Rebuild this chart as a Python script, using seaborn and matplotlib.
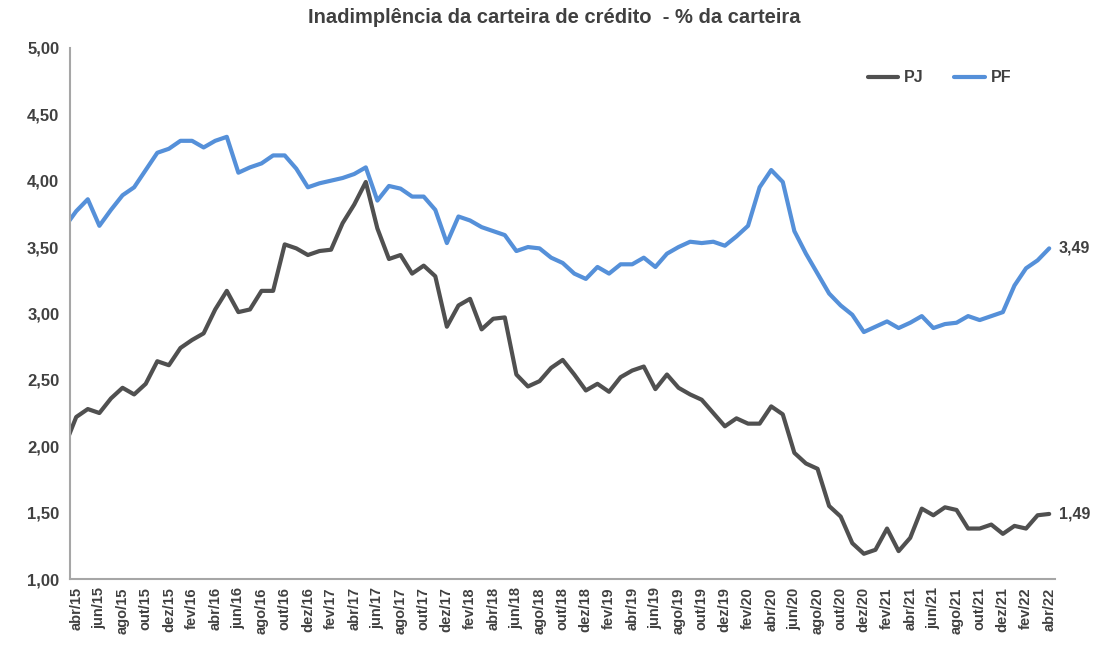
import numpy as np
import pandas as pd
import matplotlib
matplotlib.use("Agg")
import matplotlib.pyplot as plt
import seaborn as sns

# ---------------- data ----------------
MESES = ["jan", "fev", "mar", "abr", "mai", "jun", "jul", "ago", "set", "out", "nov", "dez"]
# months from mar/15 to abr/22 (mar/15 is only partially visible at the axis)
periodos = [f"{MESES[(2 + k) % 12]}/{15 + (2 + k) // 12}" for k in range(86)]

pf = [3.65,
      3.77, 3.86, 3.66, 3.78, 3.89, 3.95, 4.08, 4.21, 4.24, 4.30, 4.30, 4.25,
      4.30, 4.33, 4.06, 4.10, 4.13, 4.19, 4.19, 4.09, 3.95, 3.98, 4.00, 4.02,
      4.05, 4.10, 3.85, 3.96, 3.94, 3.88, 3.88, 3.78, 3.53, 3.73, 3.70, 3.65,
      3.62, 3.59, 3.47, 3.50, 3.49, 3.42, 3.38, 3.30, 3.26, 3.35, 3.30, 3.37,
      3.37, 3.42, 3.35, 3.45, 3.50, 3.54, 3.53, 3.54, 3.51, 3.58, 3.66, 3.95,
      4.08, 3.99, 3.62, 3.45, 3.30, 3.15, 3.06, 2.99, 2.86, 2.90, 2.94, 2.89,
      2.93, 2.98, 2.89, 2.92, 2.93, 2.98, 2.95, 2.98, 3.01, 3.21, 3.34, 3.40,
      3.49]

pj = [2.00,
      2.22, 2.28, 2.25, 2.36, 2.44, 2.39, 2.47, 2.64, 2.61, 2.74, 2.80, 2.85,
      3.03, 3.17, 3.01, 3.03, 3.17, 3.17, 3.52, 3.49, 3.44, 3.47, 3.48, 3.68,
      3.82, 3.99, 3.64, 3.41, 3.44, 3.30, 3.36, 3.28, 2.90, 3.06, 3.11, 2.88,
      2.96, 2.97, 2.54, 2.45, 2.49, 2.59, 2.65, 2.54, 2.42, 2.47, 2.41, 2.52,
      2.57, 2.60, 2.43, 2.54, 2.44, 2.39, 2.35, 2.25, 2.15, 2.21, 2.17, 2.17,
      2.30, 2.24, 1.95, 1.87, 1.83, 1.55, 1.47, 1.27, 1.19, 1.22, 1.38, 1.21,
      1.31, 1.53, 1.48, 1.54, 1.52, 1.38, 1.38, 1.41, 1.34, 1.40, 1.38, 1.48,
      1.49]

series_names = ["PJ", "PF"]
y_ticks = [1.0, 1.5, 2.0, 2.5, 3.0, 3.5, 4.0, 4.5, 5.0]
titulo = "Inadimplência da carteira de crédito  - % da carteira"

# ---------------- style ----------------
sns.set_theme(style="white")
plt.rcParams["font.family"] = ["Liberation Sans", "DejaVu Sans"]

COL_PJ = "#505050"
COL_PF = "#5590D9"
TXT = "#404040"
AX = "#A6A6A6"

pos = np.arange(len(periodos)) - 1  # abr/15 at position 0
df = pd.DataFrame({
    "pos": np.concatenate([pos, pos]),
    "valor": pj + pf,
    "serie": ["PJ"] * len(pj) + ["PF"] * len(pf),
})

fig = plt.figure(figsize=(11.09, 6.46), dpi=100)
ax = fig.add_axes([0.0635, 0.1037, 0.8878, 0.8222])

sns.lineplot(data=df, x="pos", y="valor", hue="serie", hue_order=series_names,
             palette={"PJ": COL_PJ, "PF": COL_PF}, linewidth=3.0, ax=ax,
             estimator=None, sort=True)
for ln in ax.get_lines():
    ln.set_solid_joinstyle("round")
    ln.set_solid_capstyle("round")

ax.set_xlim(-0.5, 84.5)
ax.set_ylim(1.0, 5.0)

# x ticks: marks at slot boundaries every 2 months, labels at abr/15, jun/15, ...
ax.set_xticks(np.arange(-0.5, 84, 2))
ax.set_xticklabels([])
lab_pos = list(range(0, 85, 2))
ax.set_xticks(lab_pos, minor=True)
ax.set_xticklabels([periodos[p + 1] for p in lab_pos], minor=True, rotation=90,
                   fontsize=10.5, fontweight="bold", color=TXT)
ax.tick_params(axis="x", which="minor", length=0, pad=6)
ax.tick_params(axis="x", which="major", length=5, width=1, color=AX, direction="out")

ax.set_yticks(y_ticks)
ax.set_yticklabels([f"{v:.2f}".replace(".", ",") for v in y_ticks],
                   fontsize=12, fontweight="bold", color=TXT)
ax.tick_params(axis="y", length=5, width=1, color=AX, direction="out", pad=3)

for s in ["top", "right"]:
    ax.spines[s].set_visible(False)
for s in ["left", "bottom"]:
    ax.spines[s].set_color(AX)
    ax.spines[s].set_linewidth(1.5)

ax.set_xlabel("")
ax.set_ylabel("")
ax.grid(False)

handles, labels = ax.get_legend_handles_labels()
ax.legend(handles, labels, loc="upper left", bbox_to_anchor=(0.795, 0.985), ncol=2,
          frameon=False, handlelength=1.9, columnspacing=1.9, handletextpad=0.4,
          prop={"weight": "bold", "size": 11.5}, labelcolor=TXT)

for vals in (pf, pj):
    ax.annotate(f"{vals[-1]:.2f}".replace(".", ","), xy=(pos[-1], vals[-1]),
                xytext=(7, 0), textcoords="offset points", va="center", ha="left",
                fontsize=11.5, fontweight="bold", color=TXT, annotation_clip=False)

fig.suptitle(titulo, x=0.5, y=0.988, fontsize=14.5, fontweight="bold", color=TXT)

fig.savefig("out.png", dpi=100, facecolor="white")
